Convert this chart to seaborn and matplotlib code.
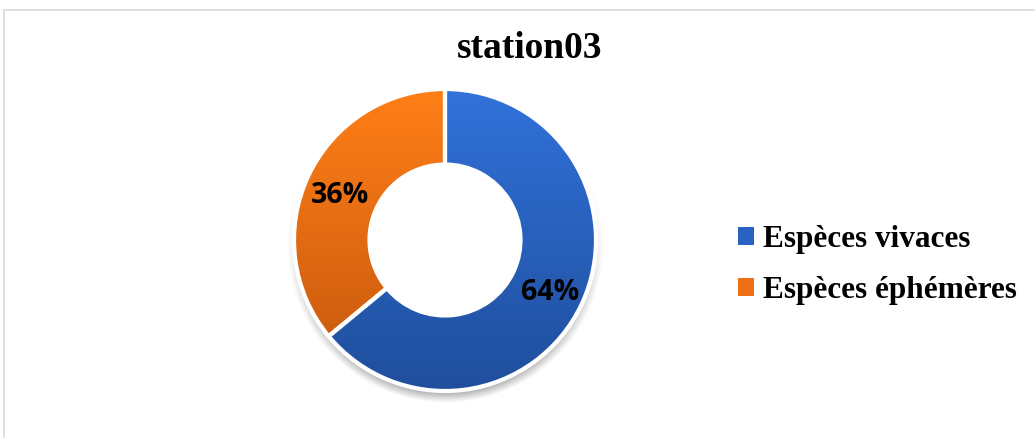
import numpy as np
import matplotlib
matplotlib.use("Agg")
import matplotlib.pyplot as plt
import seaborn as sns
from matplotlib.patches import Patch, Rectangle
from matplotlib.colors import LinearSegmentedColormap

# Data
categories = ["Espèces vivaces", "Espèces éphémères"]
shares = [64, 36]
title = "station03"

# Gradient colours per slice (top -> bottom)
top_colors = ["#3172DA", "#FF7F17"]
bottom_colors = ["#1F4E9C", "#C4560E"]
legend_colors = ["#2A62C2", "#EE7014"]

sns.set_theme(style="white")
plt.rcParams["font.family"] = ["Liberation Serif", "DejaVu Serif"]
plt.rcParams["text.color"] = "black"

W, H = 1035, 438
fig = plt.figure(figsize=(W / 100, H / 100), dpi=100)
fig.patch.set_facecolor("white")

# Outer chart frame (partly clipped by the figure edge)
fig.add_artist(Rectangle((4 / W, -0.05), 1.1, (H - 10) / H + 0.05,
                         transform=fig.transFigure, fill=False,
                         edgecolor="#D9D9D9", linewidth=1.2))

cx, cy, R = 445, 240, 151
L = 1.12
half = L * R
ax = fig.add_axes([(cx - half) / W, (H - cy - half) / H, 2 * half / W, 2 * half / H])

# Soft drop shadow under the ring
g = np.linspace(-L, L, 400)
X, Y = np.meshgrid(g, g)
d = np.sqrt(X ** 2 + (Y + 0.03) ** 2)
alpha = np.clip(1 - (d - 0.98) / 0.07, 0, 1) * (d > 0.96)
alpha *= np.clip(0.3 - 0.7 * Y, 0, 1)
shadow = np.zeros((400, 400, 4))
shadow[..., :3] = 0.35
shadow[..., 3] = alpha * 0.5
ax.imshow(shadow, extent=(-L, L, -L, L), origin="lower", zorder=0,
          interpolation="bilinear")

wedges, _, autotexts = ax.pie(
    shares, colors=legend_colors, startangle=90, counterclock=False,
    radius=1.0, autopct=lambda p: f"{p:.0f}%", pctdistance=0.77,
    wedgeprops=dict(width=0.5, edgecolor="white", linewidth=3),
    textprops=dict(fontfamily="Open Sans", fontweight="bold", fontsize=20.5,
                   color="black"))
for w in wedges:
    w.set_zorder(2)

# Vertical gradient fill clipped to each slice
grad = np.linspace(0, 1, 256).reshape(-1, 1)
for w, c0, c1 in zip(wedges, top_colors, bottom_colors):
    cmap = LinearSegmentedColormap.from_list("g", [c1, c0])
    im = ax.imshow(grad, extent=(-1, 1, -1, 1), origin="lower", cmap=cmap,
                   aspect="auto", zorder=1.5)
    im.set_clip_path(w)
    w.set_facecolor("none")
for t in autotexts:
    t.set_zorder(3)
autotexts[1].set_y(autotexts[1].get_position()[1] - 0.03)
autotexts[0].set_y(autotexts[0].get_position()[1] - 0.02)

ax.set_xlim(-L, L)
ax.set_ylim(-L, L)
ax.set_aspect("equal")
ax.axis("off")

fig.text(530 / W, 1 - 49 / H, title, ha="center", va="center",
         fontsize=27, fontweight="bold", color="black")

handles = [Patch(facecolor=c, edgecolor="none") for c in legend_colors]
fig.legend(handles, categories, loc="center left",
           bbox_to_anchor=(716 / W, 1 - 265 / H), frameon=False,
           prop=dict(family="Liberation Serif", weight="bold", size=22.5),
           handlelength=0.5, handleheight=0.5, handletextpad=0.3,
           labelspacing=0.72, borderpad=0.2, labelcolor="black")

fig.savefig("out.png", dpi=100, facecolor="white")
